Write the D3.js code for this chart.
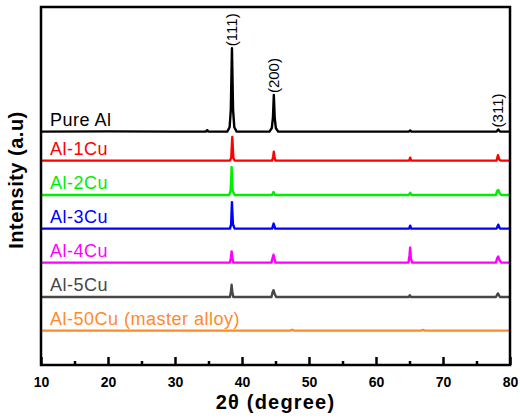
<!DOCTYPE html>
<html>
<head>
<meta charset="utf-8">
<script src="https://cdn.jsdelivr.net/npm/d3@7"></script>
<style>
  body { margin: 0; background: #fff; }
  svg { display: block; font-family: "Liberation Sans", Arial, sans-serif; }
</style>
</head>
<body>
<svg width="520" height="418"></svg>
<script>
// XRD patterns, intensity relative to each trace baseline (a.u.)
var pureAl = [[10,0],[20,0.05],[30,0],[34.6,0],[34.8,0.4],[35.0,0],[37.8,0],[38.15,1.2],[38.33,6],[38.5,23.3],[38.67,6],[38.85,1.2],[39.2,0],
  [44.1,0],[44.45,1],[44.62,4],[44.75,10.2],[44.88,4],[45.05,1],[45.4,0],[64.9,0],[65.1,0.3],[65.3,0],[78.0,0],[78.25,0.6],[78.5,0],[80,0]];
var al1Cu = [[10,0],[38.2,0],[38.4,0.8],[38.48,4],[38.55,6.6],[38.62,4],[38.7,0.8],[38.9,0],[44.5,0],[44.65,1],[44.75,2.5],[44.85,1],[45.0,0],
  [64.95,0],[65.1,0.8],[65.25,0],[78.0,0],[78.2,1.5],[78.4,0.3],[78.6,0],[80,0]];
var al2Cu = [[10,0],[38.1,0],[38.3,1.2],[38.4,5],[38.45,7.8],[38.5,5],[38.6,1.2],[38.9,0],[44.5,0],[44.7,0.8],[44.9,0],
  [64.9,0],[65.1,0.6],[65.3,0],[77.9,0],[78.1,1.2],[78.25,1.4],[78.45,0.5],[78.7,0],[80,0]];
var al3Cu = [[10,0],[38.2,0],[38.38,1.2],[38.45,5],[38.5,7.4],[38.55,5],[38.65,1.2],[38.9,0],[44.5,0],[44.72,1.4],[44.95,0],
  [64.95,0],[65.1,0.8],[65.25,0],[78.0,0],[78.25,1.1],[78.5,0],[80,0]];
var al4Cu = [[10,0],[38.2,0],[38.35,1.5],[38.45,3.1],[38.55,1.5],[38.7,0],[44.4,0],[44.55,1.2],[44.7,2.2],[44.85,1],[45.0,0],
  [64.85,0],[65.0,2],[65.1,4.2],[65.2,1.2],[65.4,0],[77.9,0],[78.1,1.3],[78.25,1.7],[78.45,0.6],[78.7,0],[80,0]];
var al5Cu = [[10,0],[38.2,0],[38.35,1.5],[38.45,3.4],[38.55,1.5],[38.7,0],[44.4,0],[44.55,1.2],[44.7,1.9],[44.85,1],[45.1,0],
  [64.9,0],[65.05,0.5],[65.2,0],[77.9,0],[78.2,1.0],[78.5,0],[80,0]];
var al50Cu = [[10,0],[47.2,0],[47.5,0.25],[47.8,0],[66.7,0],[67.0,0.2],[67.3,0],[80,0]];

var sampleNames = ["Pure Al", "Al-1Cu", "Al-2Cu", "Al-3Cu", "Al-4Cu", "Al-5Cu", "Al-50Cu (master alloy)"];
var sampleColors = ["#000000", "#ff0000", "#00ee00", "#0000ff", "#ff00ff", "#474747", "#ff8a2a"];
var sampleOffsets = [65.2, 57.1, 47.5, 38.1, 28.6, 19.0, 9.6];
var sampleData = [pureAl, al1Cu, al2Cu, al3Cu, al4Cu, al5Cu, al50Cu];

var peakLabels = ["(111)", "(200)", "(311)"];
var peakTheta = [38.5, 44.75, 78.25];
var peakTop = [23.3, 10.2, 0.6];

var majorTicks = [10, 20, 30, 40, 50, 60, 70, 80];
var minorTicks = [15, 25, 35, 45, 55, 65, 75];

var svg = d3.select("svg"),
    margin = {top: 7, right: 10, bottom: 53, left: 41},
    width = +svg.attr("width") - margin.left - margin.right,
    height = +svg.attr("height") - margin.top - margin.bottom;

var x = d3.scaleLinear().domain([10, 80]).range([0, width]),
    y = d3.scaleLinear().domain([0, 100]).range([height, 0]);

var g = svg.append("g")
    .attr("transform", "translate(" + margin.left + "," + margin.top + ")");

var line = d3.line()
    .x(function(d) { return x(d[0]); })
    .y(function(d) { return y(d[1]); });

sampleData.forEach(function(series, i) {
  var off = sampleOffsets[i];
  g.append("path")
    .datum(series.map(function(d) { return [d[0], d[1] + off]; }))
    .attr("fill", "none")
    .attr("stroke", sampleColors[i])
    .attr("stroke-width", 2.4)
    .attr("stroke-linejoin", "round")
    .attr("d", line);

  g.append("text")
    .attr("x", 9)
    .attr("y", y(off) - 6)
    .attr("fill", sampleColors[i])
    .style("font-size", "18px")
    .style("letter-spacing", "0.5px")
    .text(sampleNames[i]);
});

// peak labels above the Pure Al trace
peakLabels.forEach(function(lab, i) {
  var px = x(peakTheta[i]) + 5,
      py = y(peakTop[i] + sampleOffsets[0]) - 2;
  g.append("text")
    .attr("transform", "translate(" + px + "," + py + ") rotate(-90)")
    .style("font-size", "15px")
    .text(lab);
});

// x axis, inward ticks
var xAxis = g.append("g")
    .attr("transform", "translate(0," + height + ")")
    .call(d3.axisBottom(x).tickValues(majorTicks).tickSizeInner(-8).tickSizeOuter(0).tickPadding(12));
xAxis.select(".domain").remove();
xAxis.selectAll("line").attr("stroke-width", 2.5);
xAxis.selectAll("text")
    .style("font-family", "Liberation Sans, Arial, sans-serif")
    .style("font-size", "14px")
    .style("font-weight", "bold")
    .attr("fill", "#000");

var minorAxis = g.append("g")
    .attr("transform", "translate(0," + height + ")")
    .call(d3.axisBottom(x).tickValues(minorTicks).tickSizeInner(-4).tickSizeOuter(0).tickFormat(""));
minorAxis.select(".domain").remove();
minorAxis.selectAll("line").attr("stroke-width", 2.5);

g.append("rect")
    .attr("width", width)
    .attr("height", height)
    .attr("fill", "none")
    .attr("stroke", "#000")
    .attr("stroke-width", 2.5);

svg.append("text")
    .attr("x", margin.left + width / 2)
    .attr("y", 409)
    .attr("text-anchor", "middle")
    .style("font-size", "20px")
    .style("font-weight", "bold")
    .style("letter-spacing", "1.2px")
    .text("2θ (degree)");

svg.append("text")
    .attr("transform", "translate(23,180) rotate(-90)")
    .attr("text-anchor", "middle")
    .style("font-size", "20px")
    .style("font-weight", "bold")
    .style("letter-spacing", "0.5px")
    .text("Intensity (a.u)");
</script>
</body>
</html>
